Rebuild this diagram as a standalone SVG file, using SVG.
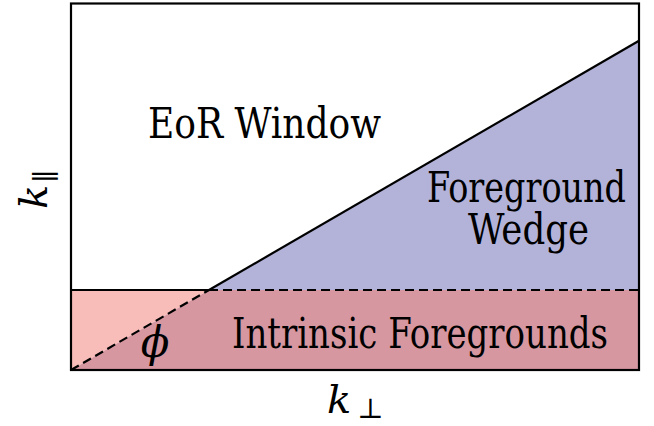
<svg xmlns="http://www.w3.org/2000/svg" width="654" height="426" viewBox="0 0 654 426">
<style>
.t{font-family:"DejaVu Serif Condensed","DejaVu Serif",serif;font-stretch:condensed;font-size:42px;fill:#000}
.m{font-family:"DejaVu Serif",serif;font-style:italic;fill:#000}
.ln{stroke:#000;stroke-width:2.2;fill:none}
.ds{stroke-dasharray:9 5}
</style>
<rect width="654" height="426" fill="#fff"/>
<g id="regions">
<polygon id="wedge" points="209,290 639,40.7 639,290" fill="#b3b3da"/>
<polygon id="intrinsic-left" points="71,370 71,290 209,290" fill="#f9bdb9"/>
<polygon id="intrinsic" points="71,370 209,290 639,290 639,370" fill="#d797a1"/>
</g>
<g id="connectors">
<line class="ln" x1="209" y1="290" x2="639" y2="40.7"/>
<line class="ln ds" x1="71" y1="370" x2="209" y2="290"/>
<line class="ln" x1="71" y1="290" x2="209" y2="290"/>
<line class="ln ds" x1="209" y1="290" x2="639" y2="290"/>
</g>
<rect id="frame" x="71" y="3.5" width="568" height="366.5" class="ln"/>
<g id="labels">
<text class="t" x="148" y="137.5" textLength="233" lengthAdjust="spacingAndGlyphs">EoR Window</text>
<text class="t" x="427" y="201.5" textLength="199" lengthAdjust="spacingAndGlyphs">Foreground</text>
<text class="t" x="468" y="243.5" textLength="121" lengthAdjust="spacingAndGlyphs">Wedge</text>
<text class="t" x="232" y="347.5" textLength="376" lengthAdjust="spacingAndGlyphs">Intrinsic Foregrounds</text>
<text class="m" x="155" y="357" font-size="42" text-anchor="middle">ϕ</text>
<text class="m" x="327" y="412.5" font-size="40">k<tspan font-style="normal" font-size="28" dx="6" dy="5">⊥</tspan></text>
<text class="m" transform="translate(47,209) rotate(-90)" font-size="40">k<tspan font-style="normal" font-size="28" dx="2" dy="8">∥</tspan></text>
</g>
</svg>
